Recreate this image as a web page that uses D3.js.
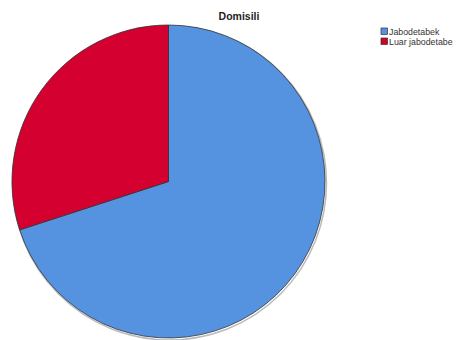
<!DOCTYPE html>
<html>
<head>
<meta charset="utf-8">
<script src="https://cdn.jsdelivr.net/npm/d3@7"></script>
<style>
  body { margin: 0; background: #fff; }
  text { font-family: "Liberation Sans", Arial, sans-serif; }
</style>
</head>
<body>
<svg id="chart"></svg>
<script>
// chart data
const categories = ['Jabodetabek', 'Luar jabodetabe'];
const values = [70, 30];
const colors = ['#5592e0', '#d30030'];

const width = 459, height = 340;
const cx = 168.5, cy = 181.5, radius = 156.5;

const svg = d3.select('#chart')
    .attr('width', width)
    .attr('height', height);

// title
svg.append('text')
    .attr('x', 239)
    .attr('y', 20)
    .attr('text-anchor', 'middle')
    .style('font-size', '10.5px')
    .style('font-weight', 'bold')
    .attr('fill', '#222')
    .text('Domisili');

const data = categories.map((c, i) => ({ name: c, value: values[i], color: colors[i] }));

// blue starts at 12 o'clock going clockwise, red fills the rest
const pie = d3.pie()
    .sort(null)
    .value(d => d.value);

const arc = d3.arc()
    .innerRadius(0)
    .outerRadius(radius);

const chartArea = svg.append('g')
    .attr('transform', `translate(${cx},${cy})`);

// soft shadow round the rim
chartArea.append('circle')
    .attr('cx', 1)
    .attr('cy', 1.5)
    .attr('r', radius + 0.5)
    .attr('fill', 'none')
    .attr('stroke', '#bbb')
    .attr('stroke-width', 1.5);

chartArea.selectAll('.slice')
    .data(pie(data))
    .join('path')
    .attr('class', 'slice')
    .attr('d', arc)
    .attr('fill', d => d.data.color)
    .attr('stroke', '#333')
    .attr('stroke-width', 0.8)
    .attr('stroke-linejoin', 'round');

// legend
const legend = svg.append('g')
    .attr('transform', 'translate(381,28)');

const legItems = legend.selectAll('.legend-item')
    .data(data)
    .join('g')
    .attr('class', 'legend-item')
    .attr('transform', (d, i) => `translate(0,${i * 10})`);

legItems.append('rect')
    .attr('width', 6.5)
    .attr('height', 6.5)
    .attr('fill', d => d.color)
    .attr('stroke', '#333')
    .attr('stroke-width', 0.7);

legItems.append('text')
    .attr('x', 8)
    .attr('y', 6.8)
    .style('font-size', '8.8px')
    .attr('fill', '#333')
    .text(d => d.name);
</script>
</body>
</html>
